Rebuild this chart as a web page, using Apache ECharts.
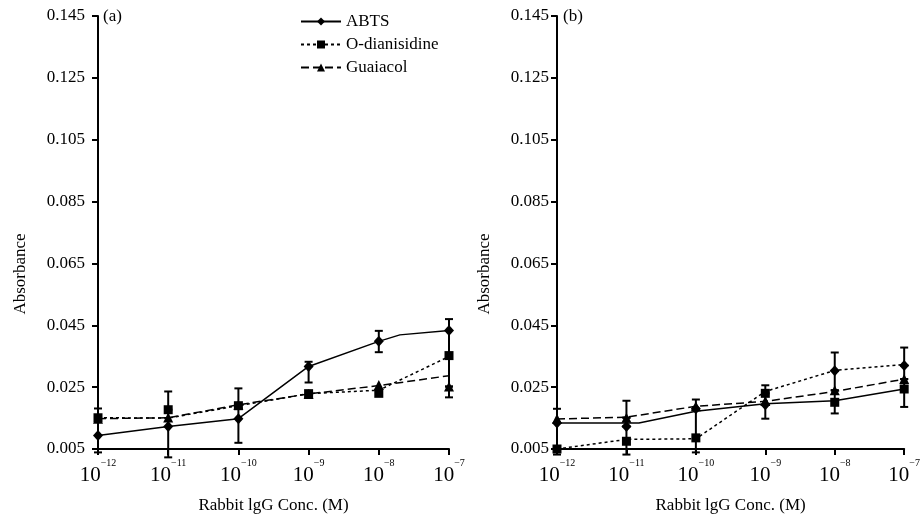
<html>
<head>
    <meta charset="utf-8">
    <title>Absorbance vs Rabbit IgG</title>
    <script src="https://cdn.jsdelivr.net/npm/echarts@6/dist/echarts.min.js"></script>
    <style>
        html, body { margin: 0; padding: 0; background: #fff; }
        #main { width: 923px; height: 524px; }
    </style>
</head>
<body>
<div id="main"></div>
<script>
    // x = log10 of concentration (M)
    var EXPS = [-12, -11, -10, -9, -8, -7]
    var YTICKS = [0.005, 0.025, 0.045, 0.065, 0.085, 0.105, 0.125, 0.145]
    var NAMES = ['ABTS', 'O-dianisidine', 'Guaiacol']

    // (a) markers
    var abtsA = [0.0094, 0.0123, 0.0148, 0.0317, 0.0398, 0.0433]
    var dianA = [0.0151, 0.0177, 0.0190, 0.0229, 0.0230, 0.0352]
    var guaiA = [0.0148, 0.0152, 0.0193, 0.0228, 0.0257, 0.0252]
    // error bars [down, up]
    var abtsErrA = [[0.0055, 0.0057], [0.010, 0.0054], [0.0078, 0.0045], [0.0052, 0.0015], [0.0035, 0.0034], [0.0081, 0.0037]]
    var dianErrA = [[0, 0.003], [0, 0.0059], [0, 0], [0, 0], [0, 0], [0.010, 0]]
    var guaiErrA = [[0, 0], [0, 0], [0, 0.0053], [0, 0], [0, 0], [0.0035, 0]]
    // (a) lines [x, y]
    var abtsLineA = [[-12, 0.0094], [-11, 0.0123], [-10, 0.0148], [-9, 0.0317], [-8, 0.0398], [-7.7, 0.0419], [-7, 0.0433]]
    var dianLineA = [[-12, 0.0151], [-11, 0.0150], [-10, 0.0190], [-9, 0.0229], [-8, 0.0240], [-7, 0.0349]]
    var guaiLineA = [[-12, 0.0148], [-11, 0.0151], [-10, 0.0193], [-9, 0.0228], [-8, 0.0255], [-7, 0.0287]]

    // (b) markers
    var abtsB = [0.0134, 0.0123, 0.0180, 0.0193, 0.0303, 0.0320]
    var dianB = [0.0050, 0.0075, 0.0086, 0.0230, 0.0201, 0.0244]
    var guaiB = [0.0148, 0.0151, 0.0188, 0.0205, 0.0240, 0.0276]
    var abtsErrB = [[0, 0.0046], [0, 0.0028], [0, 0.003], [0.0045, 0.0037], [0, 0.0059], [0, 0.0058]]
    var dianErrB = [[0.0018, 0.0084], [0.0043, 0.0048], [0.0047, 0.0094], [0, 0.0026], [0.0036, 0.0039], [0.0058, 0.0032]]
    var guaiErrB = [[0, 0], [0, 0.0055], [0, 0], [0, 0], [0, 0.0063], [0, 0.0044]]
    // (b) lines
    var abtsLineB = [[-12, 0.0134], [-10.82, 0.0134], [-10, 0.0172], [-9, 0.0196], [-8, 0.0206], [-7, 0.0244]]
    var dianLineB = [[-12, 0.0050], [-11, 0.0081], [-10, 0.0083], [-9, 0.0236], [-8, 0.0304], [-7, 0.0323]]
    var guaiLineB = [[-12, 0.0147], [-11, 0.0153], [-10, 0.0188], [-9, 0.0204], [-8, 0.0236], [-7, 0.0276]]

    var FONT = "'Liberation Serif', 'Times New Roman', serif"
    var SYMS = ['diamond', 'rect', 'triangle']
    var SIZES = [[10, 11], 9, 10]
    var DASH = ['solid', [3, 3], [8, 4]]

    function RenderErr(params, api) {
        var x = api.value(0), y = api.value(1)
        var dn = api.value(2), up = api.value(3)
        if (!dn && !up) return null
        var lo = api.coord([x, y - dn]), hi = api.coord([x, y + up])
        var w = 4
        var st = { stroke: '#000', lineWidth: 2 }
        return {
            type: 'group', children: [
                { type: 'line', shape: { x1: lo[0], y1: lo[1], x2: hi[0], y2: hi[1] }, style: st },
                { type: 'line', shape: { x1: lo[0] - w, y1: lo[1], x2: lo[0] + w, y2: lo[1] }, style: st },
                { type: 'line', shape: { x1: hi[0] - w, y1: hi[1], x2: hi[0] + w, y2: hi[1] }, style: st },
            ]
        }
    }

    function PanelSeries(idx, lines, marks, errs) {
        var res = []
        for (var k = 0; k < 3; k++) {
            res.push({
                name: NAMES[k], type: 'line', xAxisIndex: idx, yAxisIndex: idx,
                data: lines[k], symbol: SYMS[k], showSymbol: false, silent: true, z: 2,
                color: '#000', itemStyle: { color: '#000' },
                lineStyle: { color: '#000', width: 1.5, type: DASH[k] },
            })
            res.push({
                type: 'custom', xAxisIndex: idx, yAxisIndex: idx, renderItem: RenderErr, z: 3,
                clip: false, silent: true, encode: { x: 0, y: 1 },
                data: EXPS.map((x, i) => [x, marks[k][i], errs[k][i][0], errs[k][i][1]]),
            })
            res.push({
                name: NAMES[k] + ' pts', type: 'scatter', xAxisIndex: idx, yAxisIndex: idx, z: 4,
                symbol: SYMS[k], symbolSize: SIZES[k], itemStyle: { color: '#000', opacity: 1 },
                data: EXPS.map((x, i) => [x, marks[k][i]]),
            })
        }
        return res
    }

    function XAxis(idx) {
        return {
            type: 'value', gridIndex: idx, min: -12, max: -7, interval: 1,
            name: 'Rabbit lgG Conc. (M)', nameLocation: 'middle', nameGap: 45,
            nameTextStyle: { fontFamily: FONT, fontSize: 17, color: '#000' },
            axisLine: { show: true, onZero: false, lineStyle: { color: '#000', width: 2 } },
            axisTick: { show: true, inside: false, length: 6, lineStyle: { color: '#000', width: 2 } },
            splitLine: { show: false },
            axisLabel: {
                margin: 9, color: '#000', fontFamily: FONT, fontSize: 21, lineHeight: 34,
                formatter: v => '10{s|\u2212' + (-v) + '}',
                rich: { s: { fontFamily: FONT, fontSize: 10, lineHeight: 10, verticalAlign: 'top', color: '#000' } },
            },
        }
    }

    function YAxis(idx, margin) {
        return {
            type: 'value', gridIndex: idx, min: 0.005, max: 0.145,
            axisLine: { show: true, onZero: false, lineStyle: { color: '#000', width: 2 } },
            axisTick: { show: true, inside: false, length: 6, customValues: YTICKS, lineStyle: { color: '#000', width: 2 } },
            splitLine: { show: false },
            axisLabel: {
                margin: margin, color: '#000', fontFamily: FONT, fontSize: 17, customValues: YTICKS,
                formatter: v => v.toFixed(3),
            },
        }
    }

    function Label(text, x, y, rot) {
        return {
            type: 'text', x: x, y: y, rotation: rot || 0,
            style: { text: text, fontFamily: FONT, fontSize: 17, fill: '#000', align: rot ? 'center' : 'left', verticalAlign: 'middle' },
        }
    }

    var chart = echarts.init(document.getElementById('main'))
    chart.setOption({
        animation: false,
        backgroundColor: '#fff',
        grid: [
            { left: 98, right: 474, top: 16, bottom: 75 },
            { left: 557, right: 15, top: 16, bottom: 75 },
        ],
        xAxis: [XAxis(0), XAxis(1)],
        yAxis: [YAxis(0, 13), YAxis(1, 8)],
        legend: {
            data: NAMES, orient: 'vertical', left: 300, top: 13, padding: 0,
            itemWidth: 40, itemHeight: 10, itemGap: 6, selectedMode: false,
            textStyle: { fontFamily: FONT, fontSize: 17, color: '#000' },
        },
        graphic: [
            Label('(a)', 103, 17),
            Label('(b)', 563, 17),
            Label('Absorbance', 21, 274, Math.PI / 2),
            Label('Absorbance', 485, 274, Math.PI / 2),
        ],
        series: PanelSeries(0, [abtsLineA, dianLineA, guaiLineA], [abtsA, dianA, guaiA], [abtsErrA, dianErrA, guaiErrA])
            .concat(PanelSeries(1, [abtsLineB, dianLineB, guaiLineB], [abtsB, dianB, guaiB], [abtsErrB, dianErrB, guaiErrB])),
    })
</script>
</body>
</html>
